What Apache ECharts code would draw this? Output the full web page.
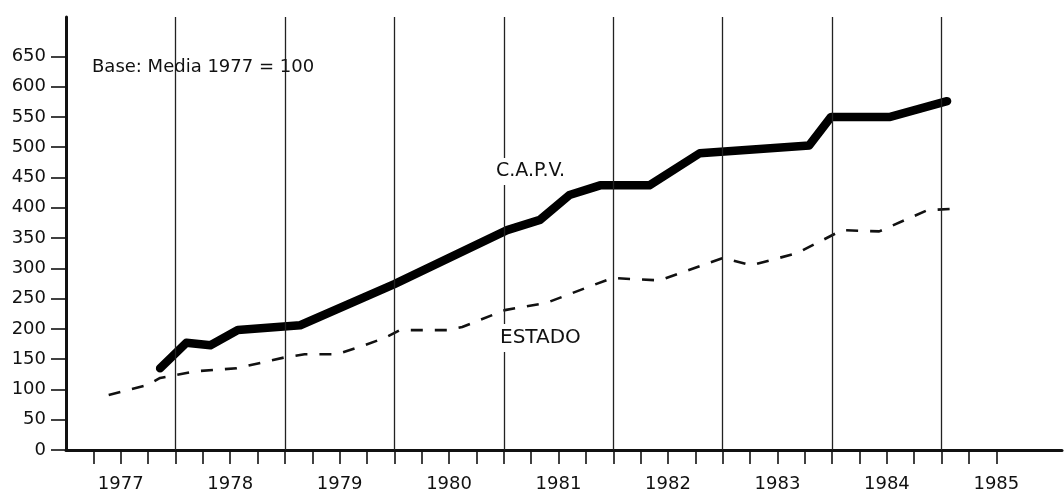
<!DOCTYPE html>
<html>
<head>
<meta charset="utf-8">
<script src="https://cdn.jsdelivr.net/npm/echarts@6/dist/echarts.min.js"></script>
<style>
html,body{margin:0;padding:0;background:#fff;}
#chart{width:1064px;height:496px;}
</style>
</head>
<body>
<div id="chart"></div>
<script>
// ---- data (time in decimal years, values = index, base 1977 = 100) ----
var capvTime = [1977.86, 1978.10, 1978.32, 1978.57, 1979.14, 1980.00, 1981.03, 1981.33, 1981.60, 1981.88, 1982.33, 1982.79, 1983.79, 1983.99, 1984.53, 1985.05];
var capvValues = [135, 177, 173, 198, 206, 274, 363, 380, 421, 437, 437, 490, 503, 550, 550, 576];
var estadoTime = [1977.39, 1977.74, 1977.86, 1978.18, 1978.56, 1979.00, 1979.18, 1979.47, 1979.68, 1979.91, 1980.05, 1980.49, 1980.62, 1981.01, 1981.39, 1981.99, 1982.42, 1983.00, 1983.26, 1983.68, 1984.09, 1984.43, 1984.87, 1985.18];
var estadoValues = [91, 107, 119, 130, 135, 153, 158, 158, 170, 185, 198, 198, 203, 231, 243, 284, 280, 317, 305, 325, 363, 361, 396, 399];
var yearLabels = [1977, 1978, 1979, 1980, 1981, 1982, 1983, 1984, 1985];
var yearLines = [1978, 1979, 1980, 1981, 1982, 1983, 1984, 1985];
var yTicks = [0, 50, 100, 150, 200, 250, 300, 350, 400, 450, 500, 550, 600, 650];
var seriesNames = ['C.A.P.V.', 'ESTADO'];
var noteText = 'Base: Media 1977 = 100';

function zip(a, b) { return a.map(function (t, i) { return [t, b[i]]; }); }
var quarterTicks = [];
for (var y = 1977; y <= 1985; y++) {
  [0.25, 0.5, 0.75, 1].forEach(function (q) { if (y + q <= 1985.5) quarterTicks.push(y + q); });
}
var labelPos = yearLabels.map(function (y) { return y + 0.5; });

var FONT = 'DejaVu Sans';
var chart = echarts.init(document.getElementById('chart'), null, { renderer: 'canvas' });
chart.setOption({
  animation: false,
  backgroundColor: '#fff',
  grid: { left: 66, right: 2, top: 17, bottom: 46, containLabel: false },
  xAxis: {
    type: 'value', min: 1977, max: 1986.1,
    axisLine: { show: true, lineStyle: { color: '#111', width: 3 } },
    axisTick: { show: true, customValues: quarterTicks, length: 14, inside: false, lineStyle: { color: '#111', width: 1.6 } },
    axisLabel: {
      customValues: labelPos, margin: 25, color: '#111', fontFamily: FONT, fontSize: 18,
      formatter: function (v) { return String(Math.floor(v)); }
    },
    splitLine: { show: false }
  },
  yAxis: {
    type: 'value', min: 0, max: 715,
    axisLine: { show: true, lineStyle: { color: '#111', width: 3 } },
    axisTick: { show: true, customValues: yTicks, length: 15, inside: false, lineStyle: { color: '#111', width: 1.6 } },
    axisLabel: { customValues: yTicks, margin: 20, color: '#111', fontFamily: FONT, fontSize: 18 },
    splitLine: { show: false }
  },
  series: [
    {
      name: seriesNames[1], type: 'line', data: zip(estadoTime, estadoValues),
      symbol: 'none', smooth: false, z: 3,
      lineStyle: { color: '#111', width: 2.6, type: [12, 12] }
    },
    {
      name: seriesNames[0], type: 'line', data: zip(capvTime, capvValues),
      symbol: 'none', smooth: false, z: 4,
      lineStyle: { color: '#000', width: 8.5, cap: 'round', join: 'round' },
      markLine: {
        silent: true, symbol: ['none', 'none'], label: { show: false },
        lineStyle: { color: '#222', width: 1.3, type: 'solid' },
        data: yearLines.map(function (y) { return { xAxis: y }; })
      }
    }
  ],
  graphic: [
    { type: 'text', left: 92, top: 58, z: 10,
      style: { text: noteText, fill: '#111', font: '18px "DejaVu Sans"' } },
    { type: 'text', left: 494, top: 158, z: 10,
      style: { text: seriesNames[0], fill: '#111', font: '19px "DejaVu Sans"', backgroundColor: '#fff', padding: [4, 2] } },
    { type: 'text', left: 498, top: 324, z: 10,
      style: { text: seriesNames[1], fill: '#111', font: '20px "DejaVu Sans"', backgroundColor: '#fff', padding: [4, 2] } }
  ]
});
</script>
</body>
</html>
